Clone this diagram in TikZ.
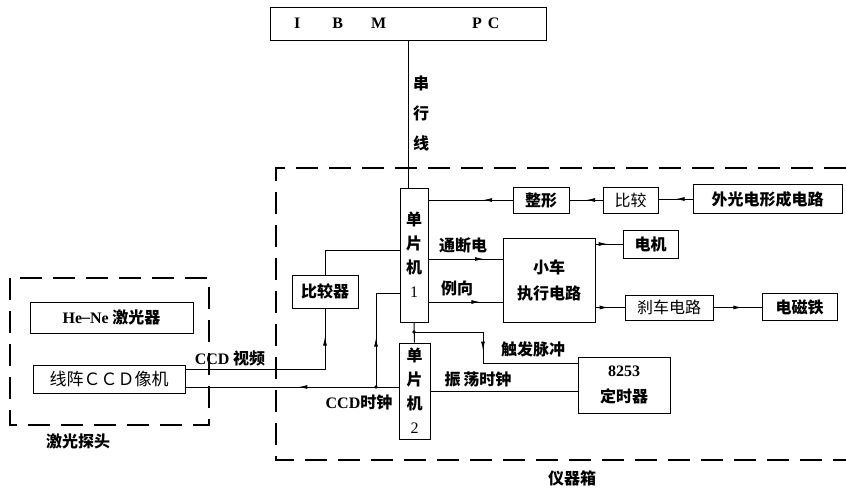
\documentclass[tikz,border=0pt]{standalone}
\usepackage{fontspec}
\setmainfont{Liberation Serif}
\newfontfamily\cjk{Noto Sans CJK SC}
\usetikzlibrary{arrows.meta,decorations.markings}
\begin{document}
\begin{tikzpicture}[x=1pt,y=-1pt,
  box/.style={draw,line width=1pt,inner sep=0pt,font=\cjk\bfseries\fontsize{16}{24}\selectfont,align=center},
  lbl/.style={inner sep=0pt,font=\cjk\bfseries\fontsize{16}{18}\selectfont,align=center},
  ln/.style={line width=1pt},
  dsh/.style={line width=1.1pt,dash pattern=on 22pt off 11pt},
  marr/.style={postaction={decorate},decoration={markings,mark=at position #1 with {\arrow{Latex[length=9pt,width=4pt]}}}},
]
\useasboundingbox (0,0) rectangle (846,491);
% helper coordinates
\coordinate (yA) at (0,259);
\coordinate (yB) at (0,302);
\coordinate (yC) at (0,250);
\coordinate (yD) at (0,369);
\coordinate (yE) at (0,387);
\coordinate (yF) at (0,293);
\coordinate (yG) at (0,332);
\coordinate (yH) at (0,363);
\coordinate (yI) at (0,391);
% dashed enclosures
\draw[dsh] (846,168) -- (276,168) -- (276,460) -- (846,460);
\draw[dsh] (10,278) rectangle (209,425);
% nodes
\node[box,minimum width=276pt,minimum height=33pt] (ibm) at (408,23.5) {};
\node[anchor=west,inner sep=0pt,font=\rmfamily\bfseries\fontsize{16}{18}\selectfont] (ibmt) at (294,23) {I\hspace{32pt}B\hspace{28pt}M\hspace{86pt}P\hspace{6pt}C};
\node[box,minimum width=28pt,minimum height=134pt] (mcu1) at (414,255) {单\\片\\机\\{\rmfamily\mdseries 1}};
\node[box,minimum width=56pt,minimum height=26pt] (zx) at (541,200) {整形};
\node[box,minimum width=55pt,minimum height=26pt,font=\cjk\fontsize{16}{18}\selectfont] (bj) at (630.5,200) {比较};
\node[box,minimum width=149pt,minimum height=29pt] (wg) at (767.5,199) {外光电形成电路};
\node[box,minimum width=92pt,minimum height=84pt,font=\cjk\bfseries\fontsize{16}{26}\selectfont] (car) at (549,280) {小车\\执行电路};
\node[box,minimum width=55pt,minimum height=28pt] (dj) at (650.5,244) {电机};
\node[box,minimum width=88pt,minimum height=25pt,font=\cjk\fontsize{16}{18}\selectfont] (sc) at (669,307.5) {刹车电路};
\node[box,minimum width=75pt,minimum height=27pt] (dct) at (799.5,307) {电磁铁};
\node[box,minimum width=66pt,minimum height=33pt] (bjq) at (325,291.5) {比较器};
\node[box,minimum width=31pt,minimum height=96pt] (mcu2) at (414.5,391) {单\\片\\机\\{\rmfamily\mdseries 2}};
\node[box,minimum width=92pt,minimum height=56pt,font=\cjk\bfseries\fontsize{16}{26}\selectfont] (t8253) at (624,385) {{\rmfamily 8253}\\定时器};
\node[box,minimum width=163pt,minimum height=31pt] (laser) at (111.5,317.5) {{\rmfamily\bfseries He{\raisebox{1pt}{--}}Ne} 激光器};
\node[box,minimum width=152pt,minimum height=28pt,font=\cjk\fontsize{17}{20}\selectfont] (ccd) at (109,379) {线阵ＣＣＤ像机};
% labels
\node[lbl,font=\cjk\bfseries\fontsize{16}{30}\selectfont] (lsx) at (421,113) {串\\行\\线};
\node[lbl] (ltdd) at (463,245) {通断电};
\node[lbl] (lfx) at (457,288) {例向};
\node[lbl] (lcf) at (533,349) {触发脉冲};
\node[lbl] (lzd) at (478,380) {振\,荡时钟};
\node[lbl] (lsp) at (230,358) {{\rmfamily\bfseries CCD} 视频};
\node[lbl] (lsz) at (359,402) {{\rmfamily\bfseries CCD}时钟};
\node[lbl] (ljg) at (78,441) {激光探头};
\node[lbl] (lyq) at (572,478) {仪器箱};
% connectors
\draw[ln] (ibm.south) -- (ibm.south |- mcu1.north);
\draw[ln,marr=0.35] (zx.west) -- (zx.west -| mcu1.east);
\draw[ln,marr=0.5] (bj.west) -- (zx.east);
\draw[ln,marr=0.5] (wg.west) -- (wg.west -| bj.east);
\draw[ln,marr=0.75] (mcu1.east |- yA) -- (car.west |- yA);
\draw[ln,marr=0.7] (mcu1.east |- yB) -- (car.west |- yB);
\draw[ln,marr=0.45] (car.east |- dj.west) -- (dj.west);
\draw[ln,marr=0.45] (car.east |- sc.west) -- (sc.west);
\draw[ln,marr=0.6] (sc.east) -- (dct.west |- sc.east);
\draw[ln] (bjq.north) |- (mcu1.west |- yC);
\draw[ln,marr=0.86] (ccd.east |- yD) -| (bjq.south);
\draw[ln,marr=0.47] (mcu2.west |- yE) -- (ccd.east |- yE);
\coordinate (j1) at (376,387);
\fill (j1) circle (1.8pt);
\draw[ln,marr=0.42] (j1) |- (mcu1.west |- yF);
\draw[ln] (mcu1.south) -- (mcu2.north);
\coordinate (j2) at (mcu1.south |- yG);
\fill (j2) circle (1.8pt);
\coordinate (c1) at (483,332);
\coordinate (c2) at (483,363);
\draw[ln,marr=0.45] (j2) -- (c1) -- (c2) -- (t8253.west |- yH);
\draw[ln] (mcu2.east |- yI) -- (t8253.west |- yI);
\end{tikzpicture}
\end{document}
